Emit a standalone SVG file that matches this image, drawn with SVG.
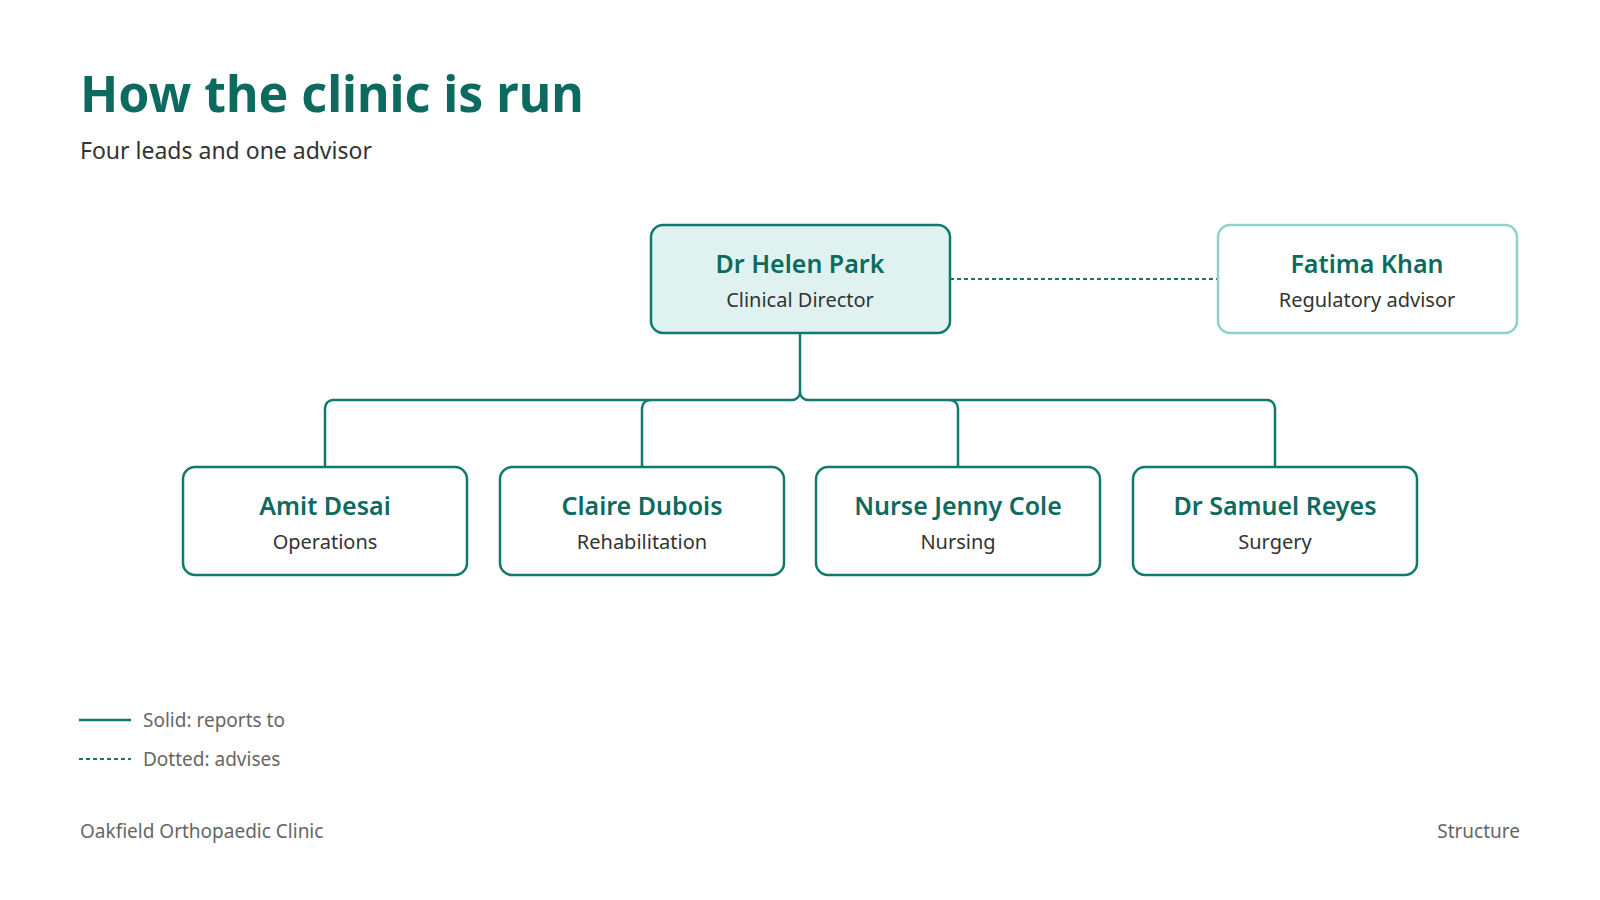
<svg xmlns="http://www.w3.org/2000/svg" width="1600" height="900" viewBox="0 0 1600 900">
<style>
text{font-family:"Noto Sans","Liberation Sans",sans-serif}
.box{fill:#fff;stroke:#0f7a6c;stroke-width:2.5}
.name{font-size:25px;font-weight:600;fill:#0c6b5e;text-anchor:middle}
.role{font-size:20px;fill:#333;text-anchor:middle}
.ln{fill:none;stroke:#0f7a6c;stroke-width:2.5}
.dot{fill:none;stroke:#0f7a6c;stroke-width:2;stroke-dasharray:4 3}
.leg{font-size:19px;fill:#666}
</style>
<rect width="1600" height="900" fill="#fff"/>
<text x="80" y="112" font-size="50" font-weight="700" fill="#0c6b5e">How the clinic is run</text>
<text x="80" y="159" font-size="23" fill="#333">Four leads and one advisor</text>
<g id="connectors">
<path class="ln" d="M800 333V392a8 8 0 0 1-8 8H333a8 8 0 0 0-8 8V467"/>
<path class="ln" d="M800 392a8 8 0 0 0 8 8H1267a8 8 0 0 1 8 8V467"/>
<path class="ln" d="M642 467V408a8 8 0 0 1 8-8"/>
<path class="ln" d="M958 467V408a8 8 0 0 0-8-8"/>
<path class="dot" d="M950 279H1217"/>
</g>
<g id="helen"><rect x="651" y="225" width="299" height="108" rx="12" class="box" fill="#e0f2ef" style="fill:#e0f2ef"/><text class="name" x="800" y="273">Dr Helen Park</text><text class="role" x="800" y="307">Clinical Director</text></g>
<g id="fatima"><rect x="1218" y="225" width="299" height="108" rx="12" class="box" style="stroke:#8fd3c6"/><text class="name" x="1367" y="273">Fatima Khan</text><text class="role" x="1367" y="307">Regulatory advisor</text></g>
<g id="amit"><rect x="183" y="467" width="284" height="108" rx="12" class="box"/><text class="name" x="325" y="515">Amit Desai</text><text class="role" x="325" y="549">Operations</text></g>
<g id="claire"><rect x="500" y="467" width="284" height="108" rx="12" class="box"/><text class="name" x="642" y="515">Claire Dubois</text><text class="role" x="642" y="549">Rehabilitation</text></g>
<g id="jenny"><rect x="816" y="467" width="284" height="108" rx="12" class="box"/><text class="name" x="958" y="515">Nurse Jenny Cole</text><text class="role" x="958" y="549">Nursing</text></g>
<g id="samuel"><rect x="1133" y="467" width="284" height="108" rx="12" class="box"/><text class="name" x="1275" y="515">Dr Samuel Reyes</text><text class="role" x="1275" y="549">Surgery</text></g>
<g id="legend">
<path class="ln" d="M79 720H131"/><text class="leg" x="143" y="727">Solid: reports to</text>
<path class="dot" d="M79 759H131"/><text class="leg" x="143" y="766">Dotted: advises</text>
</g>
<text class="leg" x="80" y="838">Oakfield Orthopaedic Clinic</text>
<text class="leg" x="1520" y="838" text-anchor="end">Structure</text>
</svg>
